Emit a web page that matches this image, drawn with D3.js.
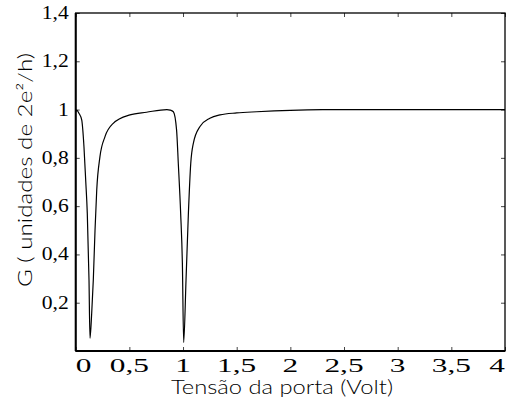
<!DOCTYPE html>
<html>
<head>
<meta charset="utf-8">
<script src="https://cdn.jsdelivr.net/npm/d3@7"></script>
<style>
  html, body { margin: 0; padding: 0; background: #fff; }
  svg { display: block; }
</style>
</head>
<body>
<div id="chart"></div>
<script>
// Gate voltage (V)
const voltage = [0, 0.009, 0.03, 0.056, 0.077, 0.093, 0.108, 0.124, 0.133, 0.149, 0.164, 0.18, 0.196, 0.226, 0.273, 0.35, 0.506, 0.66, 0.85, 0.88, 0.91, 0.94, 0.956, 0.978, 0.994, 1.006, 1.028, 1.05, 1.072, 1.096, 1.158, 1.25, 1.345, 1.5, 1.687, 2.0, 2.3, 2.93, 3.5, 4.0];
// Conductance G (units of 2e^2/h)
const conductance = [0.99, 0.998, 0.985, 0.957, 0.846, 0.708, 0.57, 0.294, 0.053, 0.156, 0.294, 0.5, 0.667, 0.805, 0.888, 0.943, 0.978, 0.989, 1.0, 0.998, 0.991, 0.915, 0.777, 0.57, 0.363, 0.035, 0.294, 0.57, 0.777, 0.86, 0.93, 0.964, 0.978, 0.986, 0.991, 0.997, 0.9995, 1.0, 1.0, 1.0];
const xTicks = [0, 0.5, 1, 1.5, 2, 2.5, 3, 3.5, 4];
const xTickLabels = ["0", "0,5", "1", "1,5", "2", "2,5", "3", "3,5", "4"];
const yTicks = [0.2, 0.4, 0.6, 0.8, 1.0, 1.2, 1.4];
const yTickLabels = ["0,2", "0,4", "0,6", "0,8", "1", "1,2", "1,4"];
const xTitle = "Tensão da porta (Volt)";
const yTitle = "G ( unidades de 2e²/h)";

const W = 507, H = 403;
const m = { left: 75.7, right: 2, top: 13, bottom: 52 };

const svg = d3.select("#chart").append("svg").attr("width", W).attr("height", H);

const x = d3.scaleLinear().domain([0, 4]).range([m.left, W - m.right]);
const y = d3.scaleLinear().domain([0, 1.4]).range([H - m.bottom, m.top]);

const x0 = x.range()[0], x1 = x.range()[1], y0 = y.range()[0], y1 = y.range()[1];

// ticks (inward), using axes
const tickLen = 4;
svg.append("g").attr("transform", `translate(0,${y0})`)
  .call(d3.axisTop(x).tickValues(xTicks).tickSize(tickLen).tickFormat(""))
  .call(g => g.select(".domain").remove())
  .call(g => g.selectAll("line").attr("stroke", "#444"));
svg.append("g").attr("transform", `translate(0,${y1})`)
  .call(d3.axisBottom(x).tickValues(xTicks).tickSize(tickLen).tickFormat(""))
  .call(g => g.select(".domain").remove())
  .call(g => g.selectAll("line").attr("stroke", "#444"));
svg.append("g").attr("transform", `translate(${x0},0)`)
  .call(d3.axisRight(y).tickValues(yTicks).tickSize(tickLen).tickFormat(""))
  .call(g => g.select(".domain").remove())
  .call(g => g.selectAll("line").attr("stroke", "#444"));
svg.append("g").attr("transform", `translate(${x1},0)`)
  .call(d3.axisLeft(y).tickValues(yTicks).tickSize(tickLen).tickFormat(""))
  .call(g => g.select(".domain").remove())
  .call(g => g.selectAll("line").attr("stroke", "#444"));

// frame
svg.append("rect")
  .attr("x", x0).attr("y", y1).attr("width", x1 - x0).attr("height", y0 - y1)
  .attr("fill", "none").attr("stroke", "#000").attr("stroke-width", 1.3);
svg.append("line").attr("x1", x0).attr("x2", x1).attr("y1", y0).attr("y2", y0)
  .attr("stroke", "#000").attr("stroke-width", 2);
svg.append("line").attr("x1", x0).attr("x2", x0).attr("y1", y1).attr("y2", y0)
  .attr("stroke", "#000").attr("stroke-width", 2);

// curve
const pts = voltage.map((v, i) => [v, conductance[i]]);
svg.append("path")
  .datum(pts)
  .attr("fill", "none").attr("stroke", "#000").attr("stroke-width", 1.2)
  .attr("d", d3.line().x(d => x(d[0])).y(d => y(d[1])).curve(d3.curveMonotoneX));

// x tick labels (wide serif)
const xl = svg.append("g").attr("font-family", "'Liberation Serif', 'Times New Roman', serif")
  .attr("font-size", 19);
xTicks.forEach((v, i) => {
  const n = xTicks.length;
  const anchor = i === 0 ? "start" : (i === n - 1 ? "end" : "middle");
  xl.append("text")
    .attr("transform", `translate(${x(v)},${y0 + 20.5}) scale(1.65,1)`)
    .attr("text-anchor", anchor)
    .attr("fill", "#000")
    .text(xTickLabels[i]);
});

// y tick labels
const yl = svg.append("g").attr("font-family", "'Liberation Serif', 'Times New Roman', serif")
  .attr("font-size", 18);
yTicks.forEach((v, i) => {
  yl.append("text")
    .attr("transform", `translate(${x0 - 7},${y(v) + 6}) scale(1.2,1)`)
    .attr("text-anchor", "end")
    .attr("fill", "#000")
    .text(yTickLabels[i]);
});

// axis titles
svg.append("text")
  .attr("x", 282).attr("y", 394)
  .attr("text-anchor", "middle")
  .attr("font-family", "Lato, 'Open Sans', sans-serif")
  .attr("font-weight", 300)
  .attr("font-size", 20)
  .attr("textLength", 222).attr("lengthAdjust", "spacingAndGlyphs")
  .attr("fill", "#000")
  .text(xTitle);

svg.append("text")
  .attr("transform", `translate(32,170) rotate(-90)`)
  .attr("text-anchor", "middle")
  .attr("font-family", "Lato, 'Open Sans', sans-serif")
  .attr("font-weight", 300)
  .attr("font-size", 20)
  .attr("textLength", 234).attr("lengthAdjust", "spacingAndGlyphs")
  .attr("fill", "#000")
  .text(yTitle);
</script>
</body>
</html>
